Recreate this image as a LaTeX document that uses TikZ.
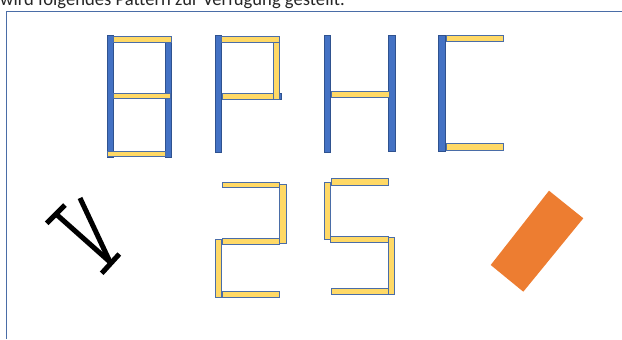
\documentclass[tikz,border=0pt]{standalone}
\usepackage{fontspec}
\setmainfont{Carlito}
\definecolor{barblue}{HTML}{4472C4}
\definecolor{barbluedark}{HTML}{2F528F}
\definecolor{baryellow}{HTML}{FFD966}
\definecolor{baredge}{HTML}{4A6DA7}
\definecolor{brickorange}{HTML}{ED7D31}
\tikzset{
  bluebar/.style={fill=barblue, draw=barbluedark, line width=0.5pt},
  yellowbar/.style={fill=baryellow, draw=baredge, line width=0.6pt},
  stick/.style={black, line width=4.3pt},
}
\begin{document}
\begin{tikzpicture}[x=0.03cm, y=-0.03cm]
            \useasboundingbox (0,0) rectangle (622,339);

            \node[anchor=base west, inner sep=0pt, font=\fontsize{15.9}{18}\selectfont, text=black!85] (intro) at (0,5.5) {wird folgendes Pattern zur Verfügung gestellt.};
            \draw[baredge, line width=0.8pt] (6,339) -- (6,11) -- (622,11); %Frame

            % B
            \draw[bluebar] (107,35) rectangle (113,157);
            \draw[bluebar] (165,36) rectangle (171,157);
            \draw[yellowbar] (113,36) rectangle (171,42);
            \draw[yellowbar] (113,93) rectangle (170,98);
            \draw[yellowbar] (107,151) rectangle (165,156);

            % P
            \draw[bluebar] (215,35) rectangle (221,152);
            \draw[bluebar] (277,93) rectangle (281,99);
            \draw[yellowbar] (221,36) rectangle (279,42);
            \draw[yellowbar] (273,42) rectangle (279,99);
            \draw[yellowbar] (222,93) rectangle (273,99);

            % H
            \draw[bluebar] (324,35) rectangle (330,152);
            \draw[bluebar] (388,35) rectangle (395,151);
            \draw[yellowbar] (331,91) rectangle (389,97);

            % C
            \draw[bluebar] (438,35) rectangle (445,151);
            \draw[yellowbar] (446,35) rectangle (503,41.5);
            \draw[yellowbar] (446,143.5) rectangle (503,150);

            % 2
            \draw[yellowbar] (222,182) rectangle (279,187);
            \draw[yellowbar] (279,184) rectangle (286,243);
            \draw[yellowbar] (222,238) rectangle (279,244);
            \draw[yellowbar] (215,239) rectangle (221.5,297);
            \draw[yellowbar] (222,291) rectangle (279,297);

            % 5
            \draw[yellowbar] (331,178) rectangle (388,185);
            \draw[yellowbar] (324,182) rectangle (330,239);
            \draw[yellowbar] (330,236) rectangle (388,242);
            \draw[yellowbar] (388,237) rectangle (394,294);
            \draw[yellowbar] (331,288) rectangle (388,294);

            % sticks
            \draw[stick] (46.7,223.3) -- (65,205);
            \draw[stick] (56,214) -- (110,262);
            \draw[stick] (80,198) -- (110,262);
            \draw[stick] (101.7,273.3) -- (119.3,254);

            % brick
            \fill[brickorange] (549,190.7) -- (583.3,218.3) -- (523.3,291.7) -- (490.7,265) -- cycle;
        \end{tikzpicture}
\end{document}
